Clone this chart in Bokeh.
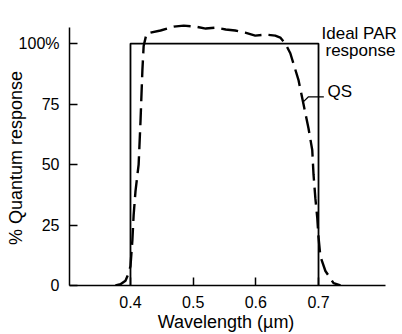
from bokeh.plotting import figure
from bokeh.models import Range1d, FixedTicker, Label
from bokeh.embed import file_html
from bokeh.resources import INLINE

# Ideal PAR response (rectangle)
par_wl = [0.4, 0.4, 0.7, 0.7]
par_resp = [0, 100, 100, 0]

# QS quantum sensor response
qs_wl = [0.376, 0.384, 0.392, 0.397, 0.400, 0.403, 0.405, 0.408, 0.413, 0.416,
         0.419, 0.421, 0.4255, 0.432, 0.448, 0.469, 0.485, 0.504, 0.520, 0.536,
         0.552, 0.567, 0.583, 0.599, 0.615, 0.631, 0.639, 0.647, 0.655, 0.668,
         0.676, 0.684, 0.690, 0.692, 0.695, 0.698, 0.700, 0.703, 0.711, 0.724, 0.735]
qs_resp = [0, 0.5, 2, 5, 8, 18.6, 29, 39, 50, 68,
           89, 99, 104, 104.5, 105.4, 107, 107.4, 107, 106.2, 106.6,
           105.8, 105.4, 104.5, 103.3, 103.7, 103.3, 102.5, 100, 96, 85,
           75, 65, 56, 46, 36, 28, 20, 12, 6, 1, 0]

x_ticks = [0.4, 0.5, 0.6, 0.7]
y_ticks = [0, 25, 50, 75, 100]
y_tick_labels = {0: "0", 25: "25", 50: "50", 75: "75", 100: "100%"}

# axis extents (axis lines drawn only over these bounds)
x_axis_bounds = (0.3027, 0.8069)
y_axis_bounds = (0, 106.6)

FONT = "Liberation Sans"
NB = "\u00a0"

p = figure(width=402, height=334, output_backend="svg", toolbar_location=None,
           x_range=Range1d(0.3027, 0.834), y_range=Range1d(0, 117.8),
           min_border_left=69, min_border_right=0, min_border_top=0,
           min_border_bottom=49)
p.outline_line_color = None
p.xgrid.visible = False
p.ygrid.visible = False
p.background_fill_color = "white"
p.border_fill_color = "white"

p.line(par_wl, par_resp, line_color="black", line_width=1.8)
p.line(qs_wl, qs_resp, line_color="black", line_width=2.4, line_dash="17 7")

# QS leader line
p.line([0.674, 0.684, 0.7085], [75.5, 78, 78], line_color="black", line_width=1.2)

for ax in (p.xaxis[0], p.yaxis[0]):
    ax.axis_line_width = 1.5
    ax.axis_line_color = "black"
    ax.major_tick_in = 8
    ax.major_tick_out = 0
    ax.major_tick_line_width = 1.5
    ax.minor_tick_line_color = None
    ax.major_label_text_font = FONT
    ax.major_label_text_font_size = "16px"
    ax.major_label_text_color = "black"
    ax.axis_label_text_font = FONT
    ax.axis_label_text_font_size = "18px"
    ax.axis_label_text_font_style = "normal"
    ax.axis_label_text_color = "black"

p.xaxis.bounds = x_axis_bounds
p.yaxis.bounds = y_axis_bounds
p.xaxis.ticker = FixedTicker(ticks=x_ticks)
p.yaxis.ticker = FixedTicker(ticks=y_ticks)
p.yaxis.major_label_overrides = y_tick_labels
p.xaxis.major_label_standoff = 10
p.yaxis.major_label_standoff = 10
p.xaxis.axis_label = "Wavelength (\u00b5m)" + NB * 4
p.yaxis.axis_label = "% Quantum response" + NB * 6
p.xaxis.axis_label_standoff = 1
p.yaxis.axis_label_standoff = -10

p.add_layout(Label(x=0.7048, y=104.1, text="Ideal PAR", text_font=FONT,
                   text_font_size="17px", text_color="black", text_baseline="alphabetic"))
p.add_layout(Label(x=0.7111, y=97.1, text="response", text_font=FONT,
                   text_font_size="17px", text_color="black", text_baseline="alphabetic"))
p.add_layout(Label(x=0.7143, y=80.0, text="QS", text_font=FONT,
                   text_font_size="17px", text_color="black", text_baseline="middle"))

open("out.html", "w").write(file_html(p, INLINE))
